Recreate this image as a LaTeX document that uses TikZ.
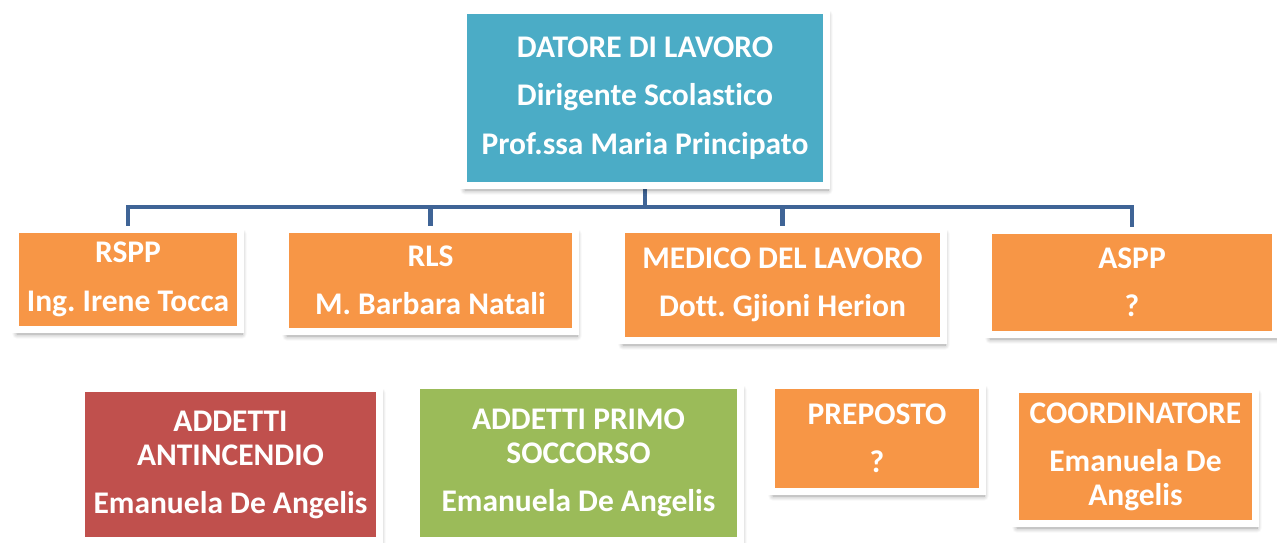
\documentclass[tikz,border=0pt]{standalone}
\usepackage{fontspec}
\setmainfont{Carlito}[Ligatures=NoCommon]
\usetikzlibrary{shadows.blur}
\definecolor{tealbox}{RGB}{75,172,198}
\definecolor{orangebox}{RGB}{247,150,70}
\definecolor{redbox}{RGB}{192,80,77}
\definecolor{greenbox}{RGB}{155,187,89}
\definecolor{linkblue}{RGB}{63,100,150}
\pgfdeclarelayer{bg}
\pgfsetlayers{bg,main}
\frenchspacing
\begin{document}
\begin{tikzpicture}[x=1pt,y=-1pt,
  box/.style={draw=white, line width=7pt, text=white, align=center, inner sep=0pt,
    blur shadow={shadow xshift=1.5pt, shadow yshift=-4.5pt, shadow blur steps=8, shadow blur radius=5pt, shadow opacity=40}},
  wide/.style={font=\bfseries\fontsize{31.5}{48.5}\selectfont},
  tight/.style={font=\bfseries\fontsize{31.5}{34}\selectfont},
  conn/.style={draw=linkblue, line width=4.5pt, line join=miter}]
\useasboundingbox (0,0) rectangle (1277,543);
\node[box, wide, fill=tealbox, minimum width=363pt, minimum height=175pt] (top) at (645,98)
  {DATORE DI LAVORO\\Dirigente Scolastico\\Prof.ssa Maria Principato};
\node[box, wide, fill=orangebox, minimum width=225pt, minimum height=100pt] (rspp) at (128,279.5)
  {RSPP\\Ing. Irene Tocca};
\node[box, wide, fill=orangebox, minimum width=290pt, minimum height=102pt] (rls) at (430.5,280.5)
  {RLS\\M. Barbara Natali};
\node[box, wide, fill=orangebox, minimum width=322pt, minimum height=111pt] (medico) at (782.5,285)
  {MEDICO DEL LAVORO\\Dott. Gjioni Herion};
\node[box, wide, fill=orangebox, minimum width=287pt, minimum height=104pt] (aspp) at (1132,282.5)
  {ASPP\\?};
\node[box, tight, fill=redbox, minimum width=298pt, minimum height=152pt] (antinc) at (230.5,464.5)
  {ADDETTI\\ANTINCENDIO\\[14pt]Emanuela De Angelis};
\node[box, tight, fill=greenbox, minimum width=324pt, minimum height=155pt] (soccorso) at (578.5,463)
  {ADDETTI PRIMO\\SOCCORSO\\[14pt]Emanuela De Angelis};
\node[box, wide, fill=orangebox, minimum width=211pt, minimum height=106pt] (preposto) at (877,438.5)
  {PREPOSTO\\?};
\node[box, tight, fill=orangebox, minimum width=240pt, minimum height=134pt] (coord) at (1135.5,456.5)
  {COORDINATORE\\[14pt]Emanuela De\\Angelis};
\coordinate (bus) at (645,207);
\begin{pgfonlayer}{bg}
  \draw[conn] (top.south) -- (bus);
  \draw[conn] (rspp.north) |- (bus) -| (aspp.north);
  \draw[conn] (rls.north) -- (rls.north |- bus);
  \draw[conn] (medico.north) -- (medico.north |- bus);
\end{pgfonlayer}
\end{tikzpicture}
\end{document}
